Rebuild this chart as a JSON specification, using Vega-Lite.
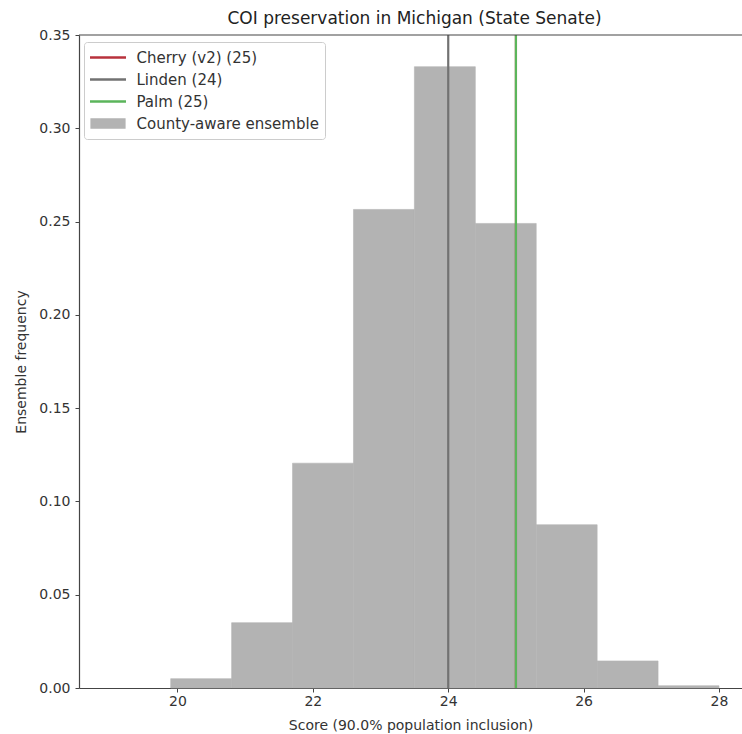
{
  "$schema": "https://vega.github.io/schema/vega-lite/v6.json",
  "width": 663,
  "height": 653,
  "autosize": {"type": "none"},
  "padding": {"left": 79, "top": 35, "right": 0, "bottom": 46},
  "background": "white",
  "config": {
    "view": {"stroke": null},
    "font": "DejaVu Sans",
    "axis": {"grid": false, "domainColor": "#444444", "tickColor": "#444444", "labelColor": "#333333", "titleColor": "#333333", "labelFontSize": 14, "titleFontSize": 14, "titleFontWeight": "normal", "tickSize": 4, "domainWidth": 1.2},
    "legend": {
      "orient": "none", "legendX": 5, "legendY": 7,
      "strokeColor": "#cccccc", "fillColor": "#ffffff", "cornerRadius": 3, "padding": 6,
      "labelFontSize": 15, "labelColor": "#333333", "labelLimit": 0, "symbolSize": 256, "symbolStrokeWidth": 2.5,
      "symbolOpacity": 1, "symbolFillColor": "transparent",
      "symbolOffset": 8.5, "labelOffset": 19, "rowPadding": 4
    }
  },
  "title": {"text": "COI preservation in Michigan (State Senate)", "fontSize": 17, "fontWeight": "normal", "color": "#222222", "offset": 0, "anchor": "middle", "dx": 4},
  "datasets": {
    "bins": [
      {"bin_start": 19.9, "bin_end": 20.8, "freq": 0.005},
      {"bin_start": 20.8, "bin_end": 21.7, "freq": 0.035},
      {"bin_start": 21.7, "bin_end": 22.6, "freq": 0.1205},
      {"bin_start": 22.6, "bin_end": 23.5, "freq": 0.2565},
      {"bin_start": 23.5, "bin_end": 24.4, "freq": 0.333},
      {"bin_start": 24.4, "bin_end": 25.3, "freq": 0.249},
      {"bin_start": 25.3, "bin_end": 26.2, "freq": 0.0875},
      {"bin_start": 26.2, "bin_end": 27.1, "freq": 0.0145},
      {"bin_start": 27.1, "bin_end": 28.0, "freq": 0.0012}
    ],
    "plans": [
      {"series": "Cherry (v2) (25)", "score": 25},
      {"series": "Linden (24)", "score": 24},
      {"series": "Palm (25)", "score": 25}
    ],
    "series": [
      {"series": "Cherry (v2) (25)"},
      {"series": "Linden (24)"},
      {"series": "Palm (25)"},
      {"series": "County-aware ensemble"}
    ]
  },
  "layer": [
    {
      "data": {"name": "bins"},
      "mark": {"type": "bar", "opacity": 1, "color": "#b3b3b3", "stroke": "#b3b3b3", "strokeWidth": 0.6},
      "encoding": {
        "x": {"field": "bin_start", "type": "quantitative", "scale": {"domain": [18.545, 28.34], "nice": false, "zero": false},
          "axis": {"values": [20, 22, 24, 26, 28], "format": "d", "title": "Score (90.0% population inclusion)", "labelPadding": 2, "titlePadding": 10}},
        "x2": {"field": "bin_end"},
        "y": {"field": "freq", "type": "quantitative", "scale": {"domain": [0, 0.35], "nice": false},
          "axis": {"values": [0, 0.05, 0.1, 0.15, 0.2, 0.25, 0.3, 0.35], "format": ".2f", "title": "Ensemble frequency", "labelPadding": 5, "titlePadding": 10}},
        "y2": {"datum": 0}
      }
    },
    {
      "data": {"name": "plans"},
      "mark": {"type": "rule", "strokeWidth": 2.2},
      "encoding": {
        "x": {"field": "score", "type": "quantitative"},
        "color": {"field": "series", "type": "nominal", "legend": {"title": null},
          "scale": {"domain": ["Cherry (v2) (25)", "Linden (24)", "Palm (25)", "County-aware ensemble"], "range": ["#b8323c", "#727272", "#5bb55b", "#b3b3b3"]}}
      }
    },
    {
      "data": {"name": "series"},
      "mark": {"type": "point", "opacity": 0, "filled": false},
      "encoding": {
        "color": {"field": "series", "type": "nominal", "legend": {"title": null}},
        "shape": {"field": "series", "type": "nominal", "legend": {"title": null},
          "scale": {"domain": ["Cherry (v2) (25)", "Linden (24)", "Palm (25)", "County-aware ensemble"],
            "range": ["M-2.25,0H2.25", "M-2.25,0H2.25", "M-2.25,0H2.25", "M-2.2,-0.5H2.2M-2.2,-0.25H2.2M-2.2,0H2.2M-2.2,0.25H2.2M-2.2,0.5H2.2"]}}
      }
    },
    {
      "data": {"values": [{}]},
      "mark": {"type": "rule", "color": "#444444", "strokeWidth": 1.2},
      "encoding": {"y": {"datum": 0.35}}
    }
  ]
}
